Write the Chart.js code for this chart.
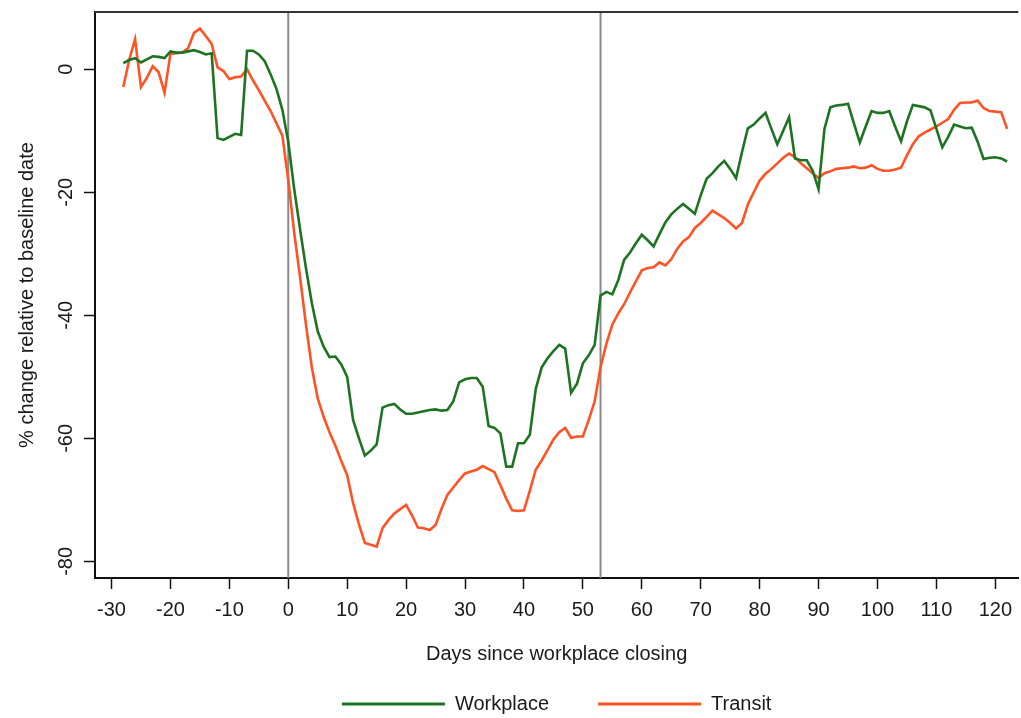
<!DOCTYPE html>
<html>
<head>
<meta charset="utf-8">
<title>Workplace and transit mobility</title>
<script src="https://cdn.jsdelivr.net/npm/chart.js@4"></script>
<style>
  html, body { margin: 0; padding: 0; background: #fff; }
</style>
</head>
<body>
<canvas id="chart" width="1021" height="718"></canvas>

<script>
// days since workplace closing, -28 .. 122
const days = [
  -28, -27, -26, -25, -24, -23, -22, -21, -20, -19,
  -18, -17, -16, -15, -14, -13, -12, -11, -10, -9,
  -8, -7, -6, -5, -4, -3, -2, -1, 0, 1,
  2, 3, 4, 5, 6, 7, 8, 9, 10, 11,
  12, 13, 14, 15, 16, 17, 18, 19, 20, 21,
  22, 23, 24, 25, 26, 27, 28, 29, 30, 31,
  32, 33, 34, 35, 36, 37, 38, 39, 40, 41,
  42, 43, 44, 45, 46, 47, 48, 49, 50, 51,
  52, 53, 54, 55, 56, 57, 58, 59, 60, 61,
  62, 63, 64, 65, 66, 67, 68, 69, 70, 71,
  72, 73, 74, 75, 76, 77, 78, 79, 80, 81,
  82, 83, 84, 85, 86, 87, 88, 89, 90, 91,
  92, 93, 94, 95, 96, 97, 98, 99, 100, 101,
  102, 103, 104, 105, 106, 107, 108, 109, 110, 111,
  112, 113, 114, 115, 116, 117, 118, 119, 120, 121,
  122
];

// % change relative to baseline date
const workplace = [
  1.0, 1.5, 1.8, 1.1, 1.6, 2.1, 2.0, 1.8, 2.9, 2.7,
  2.7, 2.9, 3.1, 2.8, 2.4, 2.6, -11.2, -11.5, -11.0, -10.5,
  -10.7, 3.0, 3.0, 2.4, 1.3, -0.8, -3.2, -6.6, -11.8, -19.4,
  -26.0, -32.3, -38.0, -42.6, -45.1, -46.8, -46.7, -48.0, -50.0, -57.0,
  -60.0, -62.8, -62.0, -61.0, -55.0, -54.6, -54.4, -55.3, -56.0, -56.0,
  -55.8, -55.6, -55.4, -55.3, -55.5, -55.4, -54.0, -50.9, -50.4, -50.2,
  -50.2, -51.6, -58.0, -58.3, -59.2, -64.6, -64.6, -60.8, -60.8, -59.4,
  -52.0, -48.5, -47.0, -45.8, -44.8, -45.4, -52.6, -51.1, -47.8, -46.5,
  -44.8, -36.8, -36.2, -36.6, -34.3, -31.0, -29.8, -28.3, -26.9, -27.8,
  -28.8, -26.8, -24.9, -23.6, -22.7, -21.9, -22.7, -23.5, -20.5, -17.8,
  -16.9, -15.8, -14.9, -16.2, -17.7, -13.5, -9.6, -9.0, -8.0, -7.1,
  -9.7, -12.2, -10.0, -7.8, -14.5, -14.8, -14.8, -16.5, -19.5, -9.7,
  -6.2, -5.9, -5.8, -5.6, -8.8, -11.9, -9.3, -6.8, -7.1, -7.1,
  -6.8, -9.3, -11.7, -8.5, -5.8, -6.0, -6.2, -6.7, -9.7, -12.7,
  -11.0, -9.0, -9.3, -9.6, -9.5, -11.8, -14.6, -14.4, -14.3, -14.5,
  -15.0
];

const transit = [
  -2.9, 1.5, 4.9, -2.9, -1.4, 0.5, -0.5, -3.8, 2.5, 2.6,
  2.7, 3.4, 5.9, 6.6, 5.4, 4.1, 0.3, -0.3, -1.6, -1.3,
  -1.2, 0.0, -1.8, -3.4, -5.1, -6.8, -8.8, -10.8, -18.0, -26.5,
  -33.8, -41.5, -48.5, -53.5, -56.5, -59.0, -61.2, -63.7, -66.0, -70.5,
  -74.0, -77.0, -77.3, -77.6, -74.6, -73.3, -72.2, -71.5, -70.8, -72.5,
  -74.5, -74.6, -74.9, -74.1, -71.5, -69.2, -68.0, -66.8, -65.7, -65.4,
  -65.1, -64.5, -65.0, -65.5, -67.6, -69.8, -71.7, -71.8, -71.7, -68.5,
  -65.1, -63.6, -61.9, -60.2, -59.0, -58.3, -59.9, -59.7, -59.7, -57.0,
  -54.0, -48.4, -44.6, -41.5, -39.7, -38.2, -36.3, -34.5, -32.7, -32.3,
  -32.2, -31.4, -31.9, -30.9, -29.2, -28.0, -27.3, -25.8, -25.0, -24.0,
  -23.0, -23.6, -24.2, -25.0, -25.9, -25.0, -22.0, -20.0, -18.1, -17.0,
  -16.2, -15.3, -14.4, -13.7, -14.3, -15.3, -16.1, -16.9, -17.7, -16.9,
  -16.6, -16.2, -16.1, -16.0, -15.8, -16.1, -16.0, -15.6, -16.2, -16.5,
  -16.5, -16.3, -16.0, -14.0, -12.2, -10.9, -10.3, -9.8, -9.3, -8.7,
  -8.1, -6.6, -5.5, -5.4, -5.4, -5.1, -6.3, -6.8, -6.9, -7.0,
  -9.7
];

const xTicks = [-30, -20, -10, 0, 10, 20, 30, 40, 50, 60, 70, 80, 90, 100, 110, 120];
const yTicks = [0, -20, -40, -60, -80];
const markerDays = [0, 53];   // workplace closing, reopening

const FONT = "'Liberation Sans', Arial, Helvetica, sans-serif";
const TEXT = '#1a1a1a';
const GREEN = '#1d7322';
const ORANGE = '#ff5326';

// vertical marker lines + top frame line
const framePlugin = {
  id: 'frame',
  beforeDatasetsDraw(chart) {
    const { ctx, chartArea, scales } = chart;
    ctx.save();
    ctx.strokeStyle = '#8a8a8a';
    ctx.lineWidth = 2;
    markerDays.forEach(d => {
      const px = scales.x.getPixelForValue(d);
      ctx.beginPath();
      ctx.moveTo(px, chartArea.top);
      ctx.lineTo(px, chartArea.bottom);
      ctx.stroke();
    });
    ctx.strokeStyle = '#333';
    ctx.beginPath();
    ctx.moveTo(chartArea.left, chartArea.top);
    ctx.lineTo(chartArea.right, chartArea.top);
    ctx.stroke();
    ctx.restore();
  }
};

new Chart(document.getElementById('chart'), {
  type: 'line',
  data: {
    datasets: [
      {
        label: 'Workplace',
        data: days.map((d, i) => ({ x: d, y: workplace[i] })),
        borderColor: GREEN,
        backgroundColor: GREEN,
        borderWidth: 2.6,
        pointRadius: 0,
        tension: 0
      },
      {
        label: 'Transit',
        data: days.map((d, i) => ({ x: d, y: transit[i] })),
        borderColor: ORANGE,
        backgroundColor: ORANGE,
        borderWidth: 2.6,
        pointRadius: 0,
        tension: 0
      }
    ]
  },
  options: {
    responsive: false,
    animation: false,
    devicePixelRatio: 1,
    layout: { padding: { top: 11, right: 0, bottom: -6, left: 0 } },
    scales: {
      x: {
        type: 'linear',
        min: -32.8,
        max: 123.9,
        afterBuildTicks: s => { s.ticks = xTicks.map(v => ({ value: v })); },
        grid: { drawOnChartArea: false, tickLength: 11, tickWidth: 1.5, tickColor: '#111' },
        border: { color: '#111', width: 2 },
        ticks: { font: { family: FONT, size: 20 }, color: TEXT, padding: 9, maxRotation: 0, autoSkip: false },
        title: {
          display: true,
          text: 'Days since workplace closing',
          font: { family: FONT, size: 20 },
          color: TEXT,
          padding: { top: 11, bottom: -21 }
        }
      },
      y: {
        min: -82.7,
        max: 9.3,
        afterBuildTicks: s => { s.ticks = yTicks.map(v => ({ value: v })); },
        grid: { drawOnChartArea: false, tickLength: 11, tickWidth: 1.5, tickColor: '#111' },
        border: { color: '#111', width: 2 },
        ticks: {
          font: { family: FONT, size: 20, lineHeight: 0.9 }, color: TEXT, padding: 3,
          minRotation: 90, maxRotation: 90, crossAlign: 'center'
        },
        title: {
          display: true,
          text: '% change relative to baseline date',
          font: { family: FONT, size: 20 },
          color: TEXT,
          padding: { top: 15, bottom: 21 }
        }
      }
    },
    plugins: {
      legend: {
        position: 'bottom',
        fullSize: false,
        labels: {
          font: { family: FONT, size: 20 },
          color: TEXT,
          boxWidth: 103,
          boxHeight: 3,
          padding: 49,
          generateLabels: chart =>
            Chart.defaults.plugins.legend.labels.generateLabels(chart).map(l => ({ ...l, lineWidth: 0 }))
        }
      },
      tooltip: { enabled: false }
    }
  },
  plugins: [framePlugin]
});
</script>
</body>
</html>
